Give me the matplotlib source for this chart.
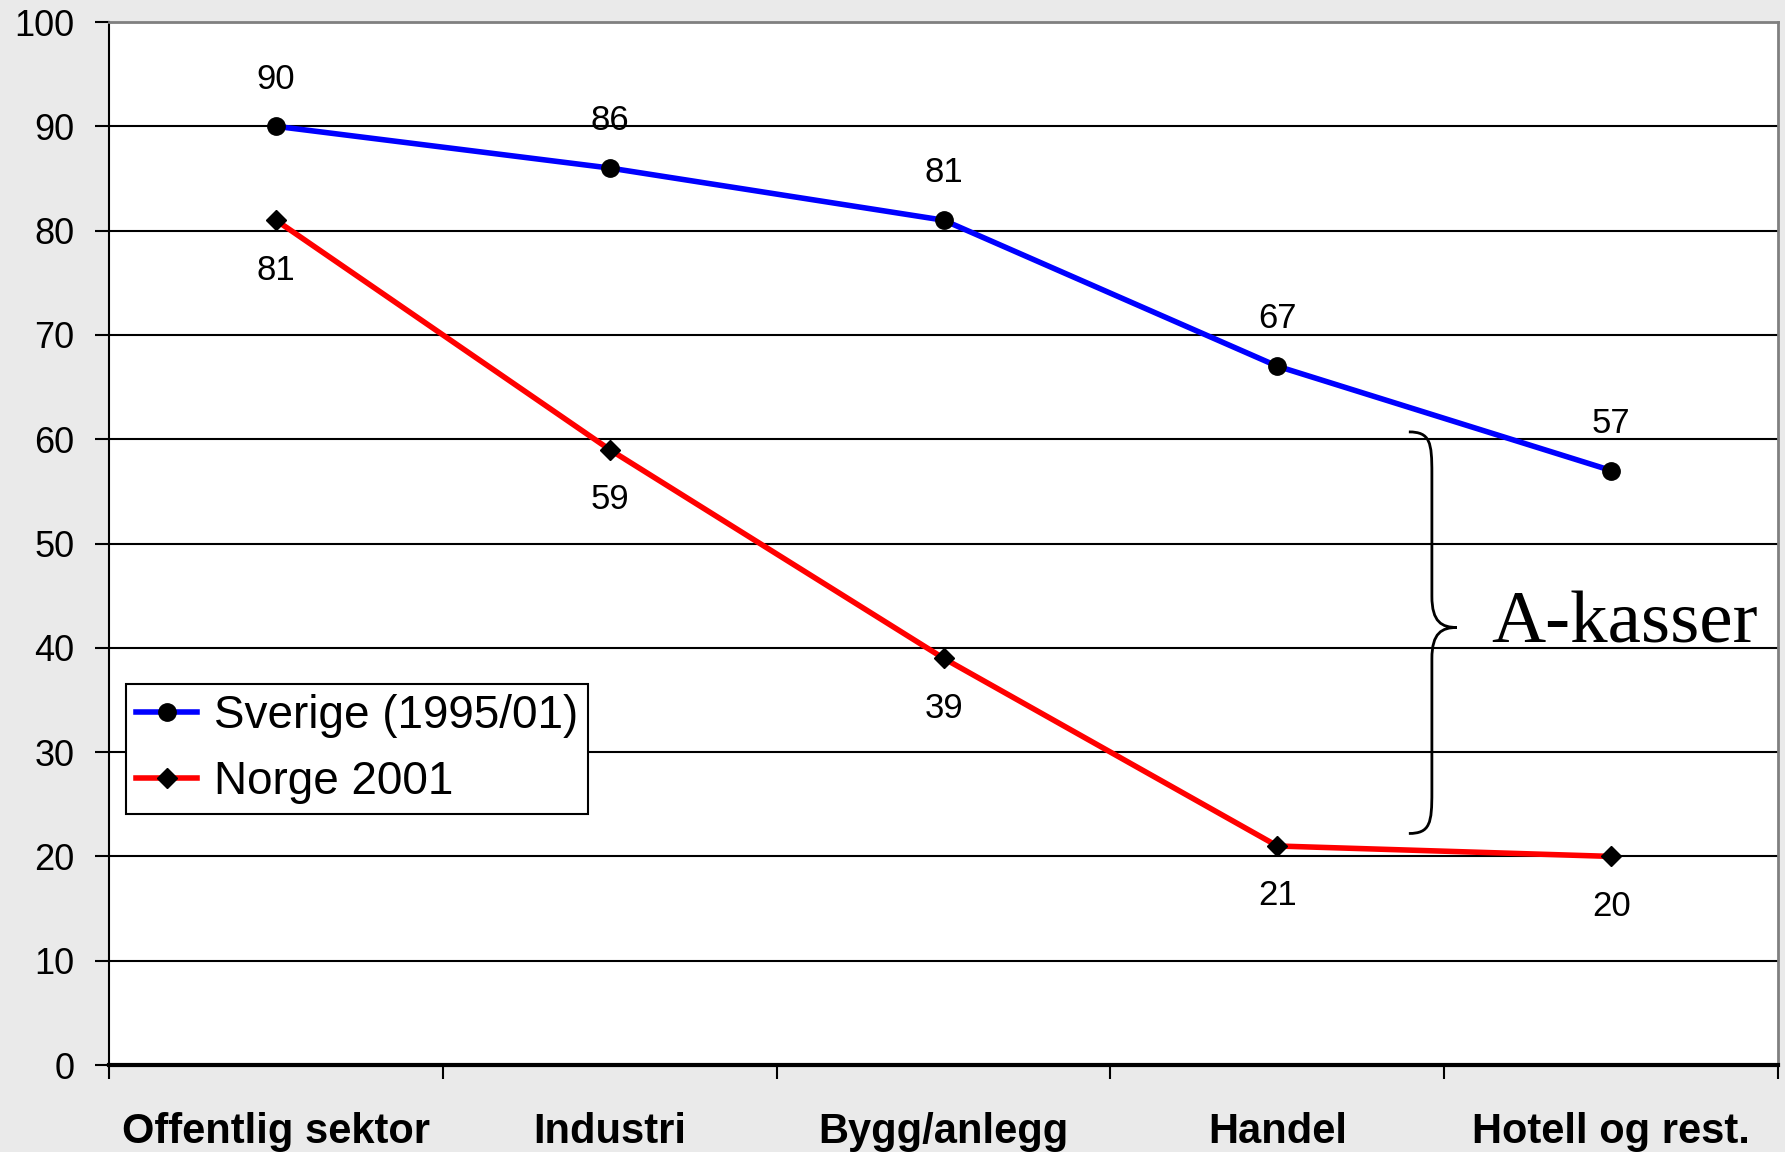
import matplotlib.pyplot as plt
from matplotlib.path import Path
from matplotlib.patches import PathPatch

# data
categories = ['Offentlig sektor', 'Industri', 'Bygg/anlegg', 'Handel', 'Hotell og rest.']
sverige = [90, 86, 81, 67, 57]
norge = [81, 59, 39, 21, 20]
sverige_label = 'Sverige (1995/01)'
norge_label = 'Norge 2001'
brace_top, brace_bottom = 60.7, 22.2
brace_text = 'A-kasser'

plt.rcParams['font.family'] = 'Liberation Sans'

fig = plt.figure(figsize=(17.85, 11.52), dpi=100, facecolor='#eaeaea')
ax = fig.add_axes([0.0611, 0.0755, 0.935, 0.9054])
ax.set_facecolor('white')

x = list(range(len(categories)))
ax.plot(x, sverige, color='#0000ff', lw=4, marker='o', ms=12.5,
        mfc='black', mec='black', label=sverige_label, zorder=3)
ax.plot(x, norge, color='#ff0000', lw=4, marker='D', ms=10.5,
        mfc='black', mec='black', label=norge_label, zorder=3)

# value labels
for i, v in enumerate(sverige):
    ax.annotate(str(v), (i, v), xytext=(0, 34), textcoords='offset points',
                ha='center', va='center', fontsize=25)
for i, v in enumerate(norge):
    ax.annotate(str(v), (i, v), xytext=(0, -36), textcoords='offset points',
                ha='center', va='center', fontsize=25)

ax.set_xlim(-0.5, len(categories) - 0.5)
ax.set_ylim(0, 100)
ax.set_yticks(range(0, 101, 10))
ax.tick_params(axis='y', labelsize=26, length=10, width=1.5, pad=15)
ax.set_xticks(x)
ax.set_xticklabels(categories, fontsize=30, fontweight='bold')
ax.tick_params(axis='x', which='major', length=0, pad=34)
ax.set_xticks([i - 0.5 for i in range(len(categories) + 1)], minor=True)
ax.tick_params(axis='x', which='minor', length=10, width=1.5)

ax.grid(axis='y', color='black', lw=1.5)
ax.set_axisbelow(True)
ax.spines['left'].set_linewidth(1.5)
ax.spines['bottom'].set_linewidth(3)
ax.spines['top'].set_color('#808080')
ax.spines['right'].set_color('#808080')
ax.spines['top'].set_linewidth(2)
ax.spines['right'].set_linewidth(2)

# curly brace
bx0, bx1, bx2 = 3.394, 3.463, 3.538
mid = (brace_top + brace_bottom) / 2 + 0.5
verts = [
    (bx0, brace_top), (bx1 - 0.005, brace_top), (bx1, brace_top - 1.0), (bx1, brace_top - 4),
    (bx1, mid + 3), (bx1, mid + 3), (bx1, mid + 3),
    (bx1, mid + 0.5), (bx1 + 0.03, mid), (bx2, mid),
    (bx1 + 0.03, mid), (bx1, mid - 0.5), (bx1, mid - 3),
    (bx1, brace_bottom + 4), (bx1, brace_bottom + 4), (bx1, brace_bottom + 4),
    (bx1, brace_bottom + 1.0), (bx1 - 0.005, brace_bottom), (bx0, brace_bottom),
]
codes = [Path.MOVETO] + [Path.CURVE4] * 18
ax.add_patch(PathPatch(Path(verts, codes), fc='none', ec='black', lw=2, zorder=4))
ax.text(4.04, 40.5, brace_text, fontsize=54, family='Liberation Serif',
        ha='center', va='baseline')

leg = ax.legend(loc='upper left', bbox_to_anchor=(0.0102, 0.3653), fontsize=33,
                frameon=True, fancybox=False, edgecolor='black', framealpha=1,
                handlelength=1.33, handletextpad=0.36, borderpad=0.22,
                labelspacing=0.47, borderaxespad=0)
leg.get_frame().set_linewidth(1.5)

fig.savefig('out.png', dpi=100, facecolor=fig.get_facecolor())
